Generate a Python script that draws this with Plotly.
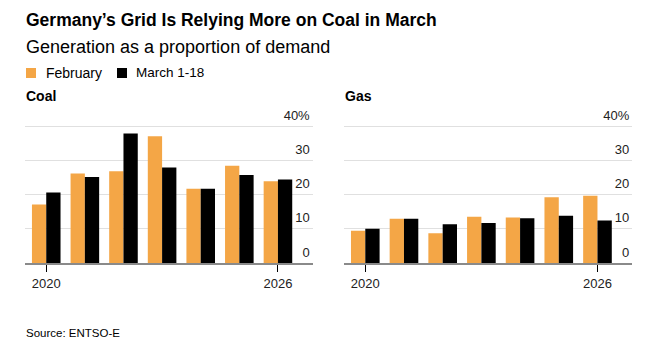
import plotly.graph_objects as go

years = [2020, 2021, 2022, 2023, 2024, 2025, 2026]
coal_feb = [17.1, 26.1, 26.8, 37.0, 21.7, 28.4, 23.9]
coal_mar = [20.6, 25.1, 37.8, 27.9, 21.7, 25.7, 24.4]
gas_feb = [9.4, 12.9, 8.7, 13.5, 13.3, 19.2, 19.6]
gas_mar = [10.0, 12.9, 11.3, 11.7, 13.1, 13.8, 12.4]
y_ticks = [0, 10, 20, 30, 40]
y_ticktext = ["0", "10", "20", "30", "40%"]
x_ticks = [2020, 2026]

ORANGE = "#F4A646"
BLACK = "#000000"
W, H = 671, 344
FONT = "Liberation Sans"
YMAX = 46  # headroom so the top tick label stays inside the plot area

def py(px):
    return 1 - px / H

def pxx(px):
    return px / W

fig = go.Figure()
for feb, mar, xa, ya in [(coal_feb, coal_mar, "x", "y"), (gas_feb, gas_mar, "x2", "y2")]:
    fig.add_trace(go.Bar(x=years, y=feb, name="February", marker=dict(color=ORANGE, line=dict(width=0)),
                         xaxis=xa, yaxis=ya, showlegend=False))
    fig.add_trace(go.Bar(x=years, y=mar, name="March 1-18", marker=dict(color=BLACK, line=dict(width=0)),
                         xaxis=xa, yaxis=ya, showlegend=False))

px_per_unit = (263 - 126) / 40.0
ydom = [py(263), py(263 - YMAX * px_per_unit)]
xcommon = dict(range=[2019.45, 2026.9], tickvals=x_ticks, ticktext=[str(v) for v in x_ticks],
               ticks="outside", ticklen=7, tickwidth=1, tickcolor="#000",
               showline=True, linecolor="#8a8a8a", linewidth=2, showgrid=False, zeroline=False,
               tickfont=dict(family=FONT, size=13, color="#222"), fixedrange=True)
ycommon = dict(range=[0, YMAX], tickvals=y_ticks, ticktext=y_ticktext, side="right",
               ticklabelposition="inside", ticklabelshift=-11, ticks="", showline=False,
               showgrid=True, gridcolor="#e0e0e0", gridwidth=1, zeroline=False,
               tickfont=dict(family=FONT, size=13, color="#222"), fixedrange=True)

fig.update_layout(
    width=W, height=H,
    margin=dict(l=0, r=0, t=0, b=0),
    paper_bgcolor="white", plot_bgcolor="white",
    barmode="group", bargap=0.26, bargroupgap=0,
    xaxis=dict(domain=[pxx(25), pxx(312.7)], anchor="y", **xcommon),
    yaxis=dict(domain=ydom, anchor="x", **ycommon),
    xaxis2=dict(domain=[pxx(344), pxx(632.3)], anchor="y2", **xcommon),
    yaxis2=dict(domain=ydom, anchor="x2", **ycommon),
    showlegend=False,
)

ann = [
    dict(text="<b>Germany’s Grid Is Relying More on Coal in March</b>", x=pxx(24), y=py(20), size=17.5),
    dict(text="Generation as a proportion of demand", x=pxx(24), y=py(47), size=18),
    dict(text="February", x=pxx(44), y=py(73), size=14),
    dict(text="March 1-18", x=pxx(134), y=py(73), size=13.5),
    dict(text="<b>Coal</b>", x=pxx(24), y=py(96.5), size=14),
    dict(text="<b>Gas</b>", x=pxx(343), y=py(96.5), size=14),
    dict(text="Source: ENTSO-E", x=pxx(24), y=py(333), size=11.5),
]
for a in ann:
    fig.add_annotation(text=a["text"], x=a["x"], y=a["y"], xref="paper", yref="paper",
                       xanchor="left", yanchor="middle", showarrow=False,
                       font=dict(family=FONT, size=a["size"], color="#000"))

for x0, col in [(26, ORANGE), (117, BLACK)]:
    fig.add_shape(type="rect", xref="paper", yref="paper",
                  x0=pxx(x0), x1=pxx(x0 + 10), y0=py(78), y1=py(68),
                  fillcolor=col, line=dict(width=0))

fig.write_html("out.html")
